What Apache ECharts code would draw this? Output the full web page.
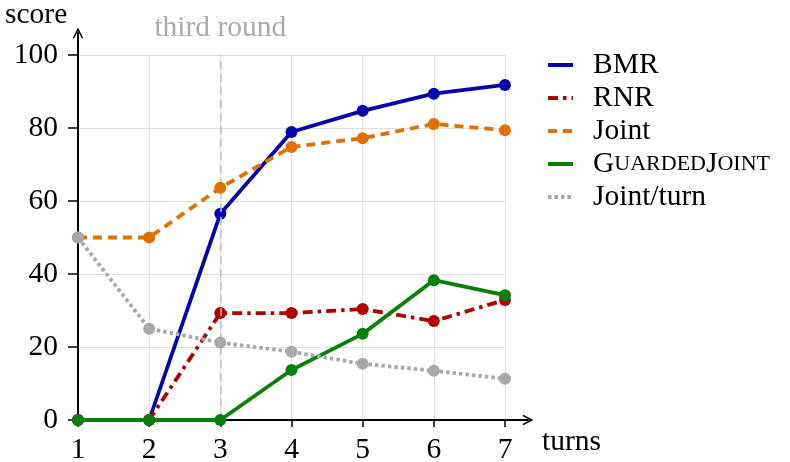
<!DOCTYPE html>
<html><head><meta charset="utf-8">
<script src="https://cdn.jsdelivr.net/npm/echarts@6/dist/echarts.min.js"></script>
<style>html,body{margin:0;padding:0;background:#fff}#c{width:790px;height:462px}</style>
</head><body><div id="c"></div>
<script>
const turns = [1, 2, 3, 4, 5, 6, 7];
const bmr = [0, 0, 56.5, 78.9, 84.7, 89.4, 91.8];
const rnr = [0, 0, 29.3, 29.3, 30.4, 27.1, 32.9];
const joint = [50, 50, 63.6, 74.8, 77.2, 81.1, 79.4];
const guarded = [0, 0, 0, 13.7, 23.6, 38.3, 34.2];
const jointTurn = [50, 25, 21.2, 18.7, 15.4, 13.5, 11.3];
const yTicks = [0, 20, 40, 60, 80, 100];
const names = ['BMR', 'RNR', 'Joint', 'GuardedJoint', 'Joint/turn'];
const colors = ['#0505aa', '#b00000', '#e07000', '#0a800a', '#a8a8a8'];

const FONT = '"Liberation Serif", "DejaVu Serif", serif';
const FS = 29.5;
const pair = arr => turns.map((t, i) => [t, arr[i]]);
const arrow = 'path://M0,10 L5,0 L10,10 L8.8,10.7 L5,3.4 L1.2,10.7 Z';

function mk(name, data, color, dash, idx) {
  return {
    name: name, type: 'line', xAxisIndex: 0, yAxisIndex: 0,
    data: pair(data), symbol: 'circle', symbolSize: 12,
    itemStyle: {color: color}, z: 3 + idx,
    lineStyle: {color: color, width: 3.8, type: dash},
    animation: false
  };
}

const chart = echarts.init(document.getElementById('c'), null, {renderer: 'canvas'});
chart.setOption({
  animation: false,
  textStyle: {fontFamily: FONT},
  title: {text: 'score', left: 5, top: 0, padding: 0,
    textStyle: {fontFamily: FONT, fontSize: FS, fontWeight: 'normal', color: '#000'}},
  grid: [
    {left: 78, right: 285, top: 55, bottom: 42, containLabel: false, outerBoundsMode: 'none'},
    {left: 78, right: 262, top: 33, bottom: 42, containLabel: false, outerBoundsMode: 'none'}
  ],
  xAxis: [
    {type: 'value', gridIndex: 0, min: 1, max: 7, interval: 1,
      axisLine: {show: false},
      axisTick: {show: true, length: 7, lineStyle: {color: '#000', width: 1.5}},
      axisLabel: {fontSize: FS, color: '#000', fontFamily: FONT, margin: 15},
      splitLine: {show: true, lineStyle: {color: '#dedede', width: 1}}},
    {type: 'value', gridIndex: 1, min: 0, max: 1,
      axisLine: {show: true, symbol: ['none', arrow], symbolSize: [14, 11], lineStyle: {color: '#000', width: 2}},
      axisTick: {show: false}, axisLabel: {show: false}, splitLine: {show: false},
      name: 'turns', nameLocation: 'end', nameGap: 14,
      nameTextStyle: {fontFamily: FONT, fontSize: FS, color: '#000', verticalAlign: 'top', padding: [7, 0, 0, 0]}}
  ],
  yAxis: [
    {type: 'value', gridIndex: 0, min: 0, max: 100, interval: 20,
      axisLine: {show: false},
      axisTick: {show: true, length: 10, lineStyle: {color: '#000', width: 1.5}},
      axisLabel: {fontSize: FS, color: '#000', fontFamily: FONT, margin: 20,
        formatter: v => yTicks.includes(v) ? String(v) : ''},
      splitLine: {show: true, lineStyle: {color: '#dedede', width: 1}}},
    {type: 'value', gridIndex: 1, min: 0, max: 1,
      axisLine: {show: true, symbol: ['none', arrow], symbolSize: [14, 11], lineStyle: {color: '#000', width: 2}},
      axisTick: {show: false}, axisLabel: {show: false}, splitLine: {show: false}}
  ],
  legend: {
    data: names, orient: 'vertical', left: 541, top: 45,
    itemWidth: 25, itemHeight: 14, itemGap: 3,
    itemStyle: {opacity: 0},
    lineStyle: {width: 4},
    textStyle: {fontFamily: FONT, fontSize: FS, color: '#000', lineHeight: 29.5, padding: [0, 0, 0, 15],
      rich: {a: {fontFamily: FONT, fontSize: FS, color: '#000'}, b: {fontFamily: FONT, fontSize: 22, color: '#000'}}},
    formatter: n => n === 'GuardedJoint' ? '{a|G}{b|UARDED}{a|J}{b|OINT}' : n
  },
  series: [
    {name: 'marker', type: 'line', data: [], xAxisIndex: 0, yAxisIndex: 0, z: 1,
      markLine: {silent: true, symbol: 'none', animation: false,
        lineStyle: {color: '#bdbdbd', width: 1.5, type: [8, 5]},
        label: {show: true, position: 'end', distance: 12, formatter: 'third round',
          fontFamily: FONT, fontSize: FS, color: '#aaaaaa'},
        data: [{xAxis: 3}]}},
    mk('BMR', bmr, colors[0], 'solid', 0),
    mk('RNR', rnr, colors[1], [10, 5, 3.5, 5], 1),
    mk('Joint', joint, colors[2], [9, 6], 2),
    mk('GuardedJoint', guarded, colors[3], 'solid', 3),
    mk('Joint/turn', jointTurn, colors[4], [3.5, 3], 4)
  ]
});
</script></body></html>
